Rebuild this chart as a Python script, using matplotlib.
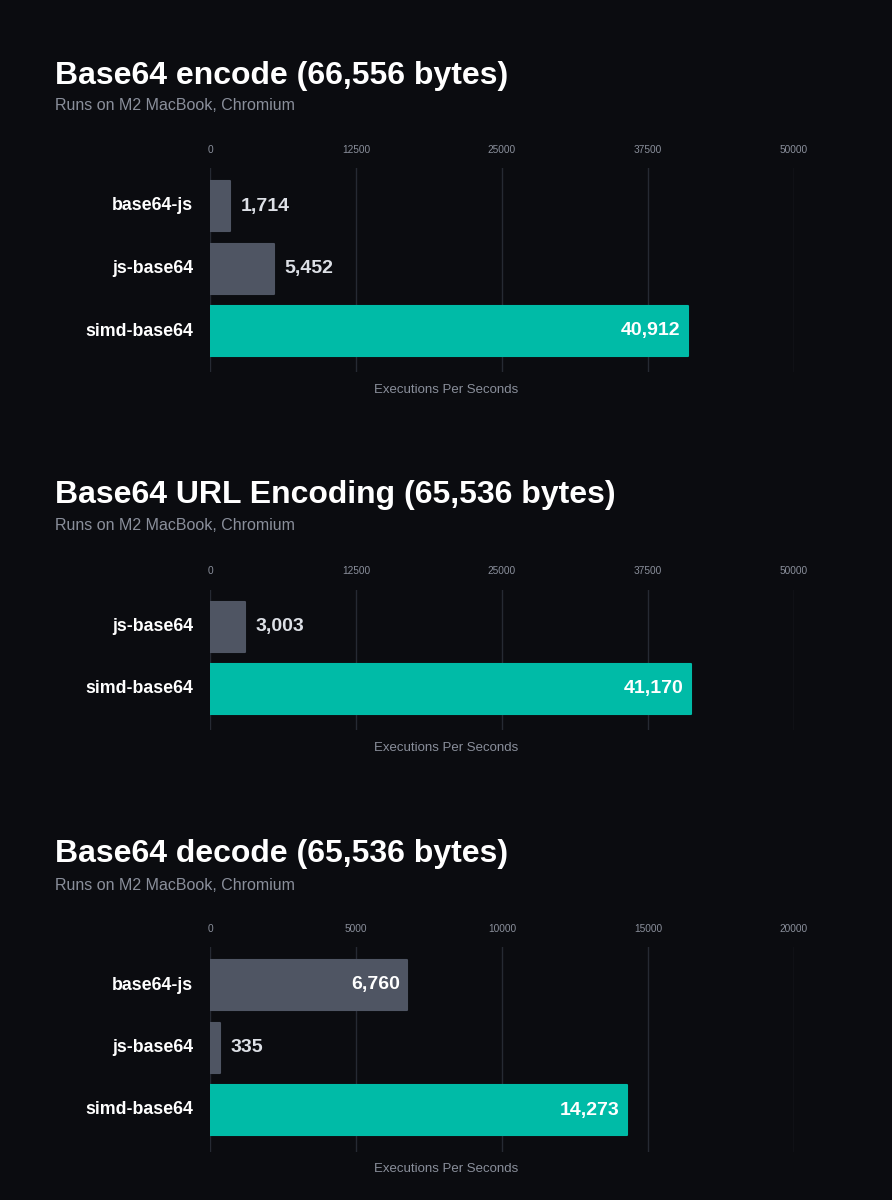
import matplotlib.pyplot as plt

plt.rcParams['font.family'] = ['Liberation Sans', 'DejaVu Sans']

# --- chart data ---
titles = [
    "Base64 encode (66,556 bytes)",
    "Base64 URL Encoding (65,536 bytes)",
    "Base64 decode (65,536 bytes)",
]
subtitle = "Runs on M2 MacBook, Chromium"
xlabel = "Executions Per Seconds"

encode_libs = ["base64-js", "js-base64", "simd-base64"]
encode_vals = [1714, 5452, 40912]

url_libs = ["js-base64", "simd-base64"]
url_vals = [3003, 41170]

decode_libs = ["base64-js", "js-base64", "simd-base64"]
decode_vals = [6760, 335, 14273]

encode_ticks = [0, 12500, 25000, 37500, 50000]
url_ticks = [0, 12500, 25000, 37500, 50000]
decode_ticks = [0, 5000, 10000, 15000, 20000]

BG = "#0b0c10"
GRID = "#262a33"
GRAY_BAR = "#4f5563"
TEAL = "#00bba7"
MUTED = "#8a8f9b"

W, H = 892, 1200
fig = plt.figure(figsize=(W / 100, H / 100), dpi=100, facecolor=BG)


def px_axes(x0, y0, x1, y1):
    # pixel box (top-left origin) -> figure fraction
    return fig.add_axes([x0 / W, 1 - y1 / H, (x1 - x0) / W, (y1 - y0) / H])


panels = [
    # title y, subtitle y, tick y, grid top, grid bottom, first bar center, spacing, xlabel y
    (encode_libs, encode_vals, encode_ticks, 76, 105, 150, 168, 372, 206, 62.5, 390),
    (url_libs, url_vals, url_ticks, 495, 526, 571, 590, 730, 627, 62.0, 748),
    (decode_libs, decode_vals, decode_ticks, 854, 885, 929, 947, 1152, 985, 62.5, 1169),
]

x_left, x_right = 210, 794

for i, (libs, vals, ticks, ty, sy, tky, gt, gb, c0, sp, xly) in enumerate(panels):
    fig.text(55 / W, 1 - ty / H, titles[i], color="white", fontsize=23,
             fontweight="bold", va="center", ha="left")
    fig.text(55 / W, 1 - sy / H, subtitle, color=MUTED, fontsize=11.5,
             va="center", ha="left")

    ax = px_axes(x_left, gt, x_right, gb)
    ax.set_facecolor(BG)
    xmax = ticks[-1]
    ax.set_xlim(0, xmax)
    top = -(c0 - gt) / sp
    bottom = (gb - c0) / sp
    ax.set_ylim(bottom, top)

    for t in ticks:
        ax.axvline(t, color=GRID, lw=1, zorder=0)
        fig.text((x_left + (x_right - x_left) * t / xmax) / W, 1 - tky / H, str(t),
                 color=MUTED, fontsize=7.3, ha="center", va="center")

    ypos = list(range(len(libs)))
    colors = [TEAL if lib == "simd-base64" else GRAY_BAR for lib in libs]
    ax.barh(ypos, vals, height=50 / sp, color=colors, edgecolor=colors,
            linewidth=1.5, joinstyle="round", zorder=2)

    for y, v, lib in zip(ypos, vals, libs):
        ax.text(-0.029 * xmax, y, lib, color="white", fontsize=12.8, fontweight="bold",
                ha="right", va="center")
        label = f"{v:,}"
        if v / xmax > 0.2:
            ax.text(v - 0.013 * xmax, y, label, color="white", fontsize=14,
                    fontweight="bold", ha="right", va="center", zorder=3)
        else:
            ax.text(v + 0.018 * xmax, y, label, color="#dde0e6", fontsize=14,
                    fontweight="bold", ha="left", va="center", zorder=3)

    ax.set_xticks([])
    ax.set_yticks([])
    for s in ax.spines.values():
        s.set_visible(False)

    fig.text(446 / W, 1 - xly / H, xlabel, color=MUTED, fontsize=9.5,
             ha="center", va="center")

fig.savefig("out.png", dpi=100, facecolor=BG)
